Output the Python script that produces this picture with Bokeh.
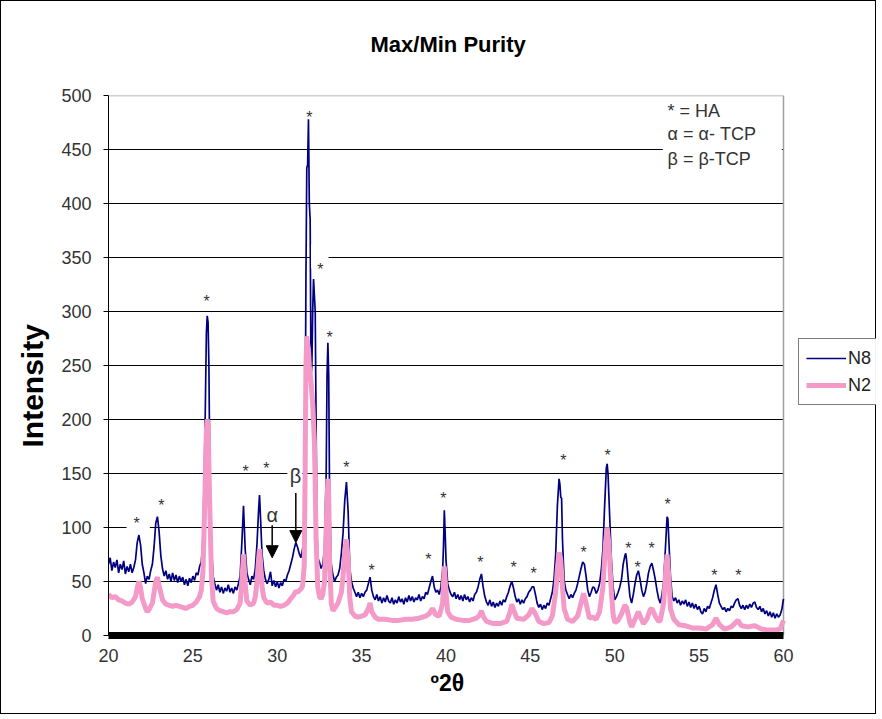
from bokeh.plotting import figure
from bokeh.models import (Legend, LegendItem, Label, LabelSet, Arrow, NormalHead, BoxAnnotation,
                          FixedTicker, Range1d, Title, ColumnDataSource)
from bokeh.core.properties import value
from bokeh.embed import file_html
from bokeh.resources import INLINE

FONT = "Liberation Sans"

# ---------------- data ----------------
n8_theta = [
    20.0, 20.1, 20.2, 20.3, 20.4, 20.5, 20.6, 20.7, 20.8, 20.9,
    21.0, 21.1, 21.2, 21.3, 21.4, 21.5, 21.6, 21.7, 21.8, 21.9,
    22.0, 22.1, 22.2, 22.3, 22.4, 22.5, 22.6, 22.7, 22.8, 22.9,
    23.0, 23.1, 23.2, 23.3, 23.4, 23.5, 23.6, 23.7, 23.8, 23.9,
    24.0, 24.1, 24.2, 24.3, 24.4, 24.5, 24.6, 24.7, 24.8, 24.9,
    25.0, 25.1, 25.2, 25.3, 25.4, 25.5, 25.6, 25.7, 25.8, 25.85, 25.9, 25.95,
    26.0, 26.1, 26.2, 26.3, 26.4, 26.5, 26.6, 26.7, 26.8, 26.9,
    27.0, 27.1, 27.2, 27.3, 27.4, 27.5, 27.6, 27.7, 27.8, 27.9,
    28.0, 28.1, 28.2, 28.3, 28.4, 28.5, 28.6, 28.7, 28.8, 28.9, 28.95,
    29.0, 29.1, 29.2, 29.3, 29.4, 29.5, 29.6, 29.7, 29.8, 29.9,
    30.0, 30.1, 30.2, 30.3, 30.4, 30.5, 30.6, 30.7, 30.8, 30.9,
    31.0, 31.1, 31.2, 31.3, 31.4, 31.5, 31.55, 31.6, 31.65, 31.7, 31.75, 31.8, 31.85, 31.9, 31.95,
    32.0, 32.05, 32.1, 32.15, 32.2, 32.25, 32.3, 32.35, 32.4, 32.5, 32.6, 32.7, 32.8, 32.9, 32.95,
    33.0, 33.05, 33.1, 33.2, 33.3, 33.4, 33.5, 33.6, 33.7, 33.8, 33.9,
    34.0, 34.1, 34.2, 34.3, 34.4, 34.5, 34.6, 34.7, 34.8, 34.9,
    35.0, 35.1, 35.2, 35.3, 35.4, 35.5, 35.6, 35.7, 35.8, 35.9,
    36.0, 36.1, 36.2, 36.3, 36.4, 36.5, 36.6, 36.7, 36.8, 36.9,
    37.0, 37.1, 37.2, 37.3, 37.4, 37.5, 37.6, 37.7, 37.8, 37.9,
    38.0, 38.1, 38.2, 38.3, 38.4, 38.5, 38.6, 38.7, 38.8, 38.9,
    39.0, 39.1, 39.2, 39.3, 39.4, 39.5, 39.6, 39.7, 39.8, 39.85, 39.9, 39.95,
    40.0, 40.1, 40.2, 40.3, 40.4, 40.5, 40.6, 40.7, 40.8, 40.9,
    41.0, 41.1, 41.2, 41.3, 41.4, 41.5, 41.6, 41.7, 41.8, 41.9,
    42.0, 42.1, 42.2, 42.3, 42.4, 42.5, 42.6, 42.7, 42.8, 42.9,
    43.0, 43.1, 43.2, 43.3, 43.4, 43.5, 43.6, 43.7, 43.8, 43.9,
    44.0, 44.1, 44.2, 44.3, 44.4, 44.5, 44.6, 44.7, 44.8, 44.9,
    45.0, 45.1, 45.2, 45.3, 45.4, 45.5, 45.6, 45.7, 45.8, 45.9,
    46.0, 46.1, 46.2, 46.3, 46.4, 46.5, 46.6, 46.7, 46.75, 46.8, 46.85, 46.9,
    47.0, 47.1, 47.2, 47.3, 47.4, 47.5, 47.6, 47.7, 47.8, 47.9,
    48.0, 48.1, 48.2, 48.3, 48.4, 48.5, 48.6, 48.7, 48.8, 48.9,
    49.0, 49.1, 49.2, 49.3, 49.4, 49.5, 49.55, 49.6, 49.7, 49.8, 49.9,
    50.0, 50.1, 50.2, 50.3, 50.4, 50.5, 50.6, 50.65, 50.7, 50.8, 50.9,
    51.0, 51.1, 51.2, 51.3, 51.4, 51.5, 51.6, 51.7, 51.8, 51.9,
    52.0, 52.1, 52.2, 52.3, 52.4, 52.5, 52.6, 52.7, 52.8, 52.9,
    53.0, 53.1, 53.15, 53.2, 53.3, 53.4, 53.5, 53.6, 53.7, 53.8, 53.9,
    54.0, 54.1, 54.2, 54.3, 54.4, 54.5, 54.6, 54.7, 54.8, 54.9,
    55.0, 55.1, 55.2, 55.3, 55.4, 55.5, 55.6, 55.7, 55.8, 55.9,
    56.0, 56.1, 56.2, 56.3, 56.4, 56.5, 56.6, 56.7, 56.8, 56.9,
    57.0, 57.1, 57.2, 57.3, 57.4, 57.5, 57.6, 57.7, 57.8, 57.9,
    58.0, 58.1, 58.2, 58.3, 58.4, 58.5, 58.6, 58.7, 58.8, 58.9,
    59.0, 59.1, 59.2, 59.3, 59.4, 59.5, 59.6, 59.7, 59.8, 59.9, 60.0,
]
n8_counts = [
    66, 72, 60, 68, 63, 70, 58, 66, 61, 69,
    57, 64, 59, 66, 58, 63, 70, 86, 93, 84,
    66, 58, 48, 55, 52, 60, 66, 82, 104, 110,
    96, 74, 62, 55, 60, 52, 57, 50, 58, 51,
    56, 49, 55, 50, 54, 47, 52, 46, 53, 49,
    55, 51, 58, 56, 64, 68, 90, 170, 280, 296, 290, 250,
    160, 82, 55, 48, 42, 47, 40, 45, 39, 44,
    41, 47, 40, 44, 39, 45, 42, 48, 55, 85,
    120, 80, 58, 52, 47, 55, 52, 62, 85, 118, 130,
    112, 75, 60, 52, 48, 52, 59, 46, 51, 45,
    50, 44, 49, 46, 52, 50, 56, 60, 66, 72,
    80, 86, 82, 76, 72, 80, 86, 100, 180, 330, 433, 436, 478, 400, 385,
    240, 250, 300, 330, 315, 300, 200, 100, 72, 68, 62, 66, 80, 150, 240,
    271, 240, 130, 66, 56, 50, 54, 56, 62, 76, 95,
    125, 142, 115, 62, 50, 44, 40, 36, 40, 35,
    39, 36, 40, 42, 48, 54, 42, 36, 33, 38,
    32, 36, 30, 35, 31, 37, 32, 30, 35, 29,
    33, 30, 36, 31, 34, 29, 35, 31, 37, 32,
    36, 31, 35, 33, 38, 32, 36, 34, 40, 38,
    44, 50, 55, 45, 40, 42, 38, 45, 60, 82, 116, 95,
    70, 48, 42, 38, 36, 40, 34, 38, 33, 37,
    32, 38, 33, 36, 31, 35, 32, 38, 40, 45,
    52, 57, 45, 36, 31, 28, 33, 27, 31, 26,
    30, 27, 32, 28, 33, 31, 36, 40, 46, 50,
    44, 36, 31, 34, 29, 33, 30, 34, 36, 40,
    42, 45, 45, 38, 30, 26, 29, 24, 28, 25,
    30, 28, 34, 40, 52, 75, 120, 145, 140, 128, 127, 90,
    51, 42, 38, 34, 38, 35, 39, 42, 48, 55,
    62, 68, 66, 55, 42, 36, 40, 45, 44, 39,
    42, 48, 60, 80, 120, 155, 159, 150, 110, 70, 45,
    33, 36, 40, 45, 52, 66, 74, 76, 70, 52, 36,
    30, 38, 48, 56, 60, 52, 42, 36, 40, 48,
    58, 64, 67, 60, 52, 42, 34, 30, 38, 50,
    80, 110, 108, 90, 55, 36, 32, 35, 30, 33, 28,
    32, 29, 33, 27, 31, 26, 30, 25, 29, 24,
    27, 22, 20, 25, 22, 27, 25, 30, 35, 42,
    47, 38, 30, 27, 24, 26, 22, 25, 23, 27,
    26, 30, 33, 34, 28, 25, 28, 24, 28, 25,
    29, 26, 30, 31, 26, 24, 27, 22, 25, 20,
    23, 18, 22, 17, 21, 16, 20, 17, 19, 24, 34,
]

n2_theta = [
    20.0, 20.2, 20.4, 20.6, 20.8, 21.0, 21.2, 21.4, 21.6, 21.7, 21.8, 21.9,
    22.0, 22.2, 22.3, 22.4, 22.6, 22.7, 22.8, 22.9,
    23.0, 23.2, 23.4, 23.6, 23.8, 24.0, 24.2, 24.4, 24.6, 24.8,
    25.0, 25.2, 25.4, 25.5, 25.6, 25.7, 25.8, 25.85, 25.9,
    26.0, 26.1, 26.2, 26.4, 26.6, 26.8,
    27.0, 27.2, 27.4, 27.6, 27.8, 27.9,
    28.0, 28.1, 28.2, 28.4, 28.6, 28.7, 28.8, 28.9, 28.95,
    29.0, 29.1, 29.2, 29.4, 29.6, 29.8,
    30.0, 30.2, 30.4, 30.6, 30.8,
    31.0, 31.1, 31.2, 31.4, 31.5, 31.6, 31.65, 31.7, 31.75, 31.8, 31.85, 31.9,
    32.0, 32.1, 32.2, 32.25, 32.3, 32.4, 32.5, 32.6, 32.7, 32.8, 32.9,
    33.0, 33.05, 33.1, 33.2, 33.3, 33.4, 33.6, 33.8, 33.9,
    34.0, 34.1, 34.2, 34.3, 34.4, 34.6, 34.8,
    35.0, 35.2, 35.4, 35.5, 35.6, 35.8,
    36.0, 36.4, 36.8, 37.2, 37.6, 38.0, 38.4, 38.8,
    39.0, 39.2, 39.4, 39.6, 39.8, 39.9,
    40.0, 40.1, 40.3, 40.6,
    41.0, 41.4, 41.8,
    42.0, 42.1, 42.2, 42.4, 42.8,
    43.2, 43.6, 43.8, 43.9,
    44.0, 44.2, 44.6, 44.9,
    45.1, 45.3, 45.5, 45.8,
    46.1, 46.3, 46.5, 46.6, 46.7, 46.8, 46.9,
    47.0, 47.2, 47.5, 47.8,
    48.0, 48.15, 48.3, 48.5, 48.7, 48.9,
    49.1, 49.3, 49.45, 49.55, 49.65, 49.8, 49.9,
    50.0, 50.2, 50.4, 50.6, 50.7, 50.9,
    51.0, 51.2, 51.4, 51.5, 51.7, 51.9,
    52.1, 52.2, 52.4, 52.6, 52.7, 52.9,
    53.0, 53.1, 53.2, 53.3, 53.5, 53.8,
    54.2, 54.6, 55.0, 55.4, 55.8,
    56.0, 56.2, 56.5, 56.9,
    57.1, 57.3, 57.5, 57.9,
    58.3, 58.7, 59.1, 59.5, 59.8, 60.0,
]
n2_counts = [
    38, 35, 36, 33, 32, 30, 29, 31, 36, 44, 50, 44,
    34, 25, 22, 24, 30, 40, 50, 54,
    46, 33, 29, 28, 27, 28, 27, 26, 25, 27,
    28, 31, 36, 42, 60, 120, 190, 200, 195,
    120, 55, 32, 25, 23, 22,
    21, 22, 22, 24, 30, 50,
    75, 48, 32, 28, 30, 36, 50, 72, 80,
    70, 45, 35, 30, 31, 28,
    28, 27, 28, 30, 34,
    38, 41, 40, 43, 46, 65, 150, 250, 277, 270, 265, 250,
    235, 215, 180, 140, 90, 45, 36, 34, 38, 50, 100,
    145, 130, 70, 30, 23, 25, 30, 40, 55,
    78, 89, 70, 35, 22, 18, 17,
    18, 19, 25, 30, 22, 17,
    15, 15, 14, 14, 15, 15, 16, 18,
    20, 25, 19, 18, 30, 64,
    40, 22, 17, 15,
    14, 14, 16,
    19, 23, 18, 13, 11,
    11, 13, 22, 29,
    24, 16, 15, 19,
    25, 20, 13, 11,
    12, 18, 40, 62, 77, 70, 45,
    25, 15, 13, 18,
    30, 39, 30, 16, 17, 15,
    22, 45, 85, 100, 85, 40, 20,
    12, 14, 20, 28, 26, 12,
    8, 15, 22, 18, 11, 15,
    24, 25, 18, 13, 14, 30,
    55, 75, 55, 25, 15, 10,
    9, 7, 7, 6, 10,
    16, 10, 6, 8,
    11, 14, 9, 8,
    9, 6, 5, 5, 6, 14,
]

# HA peak markers ("*"): position of each marker
ha_theta = [21.66, 23.14, 25.81, 28.12, 29.36, 31.91, 32.56, 33.1, 34.1, 35.59,
            38.96, 39.85, 42.04, 44.0, 45.19, 46.96, 48.15, 49.57, 50.81, 51.35,
            52.18, 53.13, 55.91, 57.33]
ha_level = [104, 120, 309, 152, 155, 480, 339, 276, 156, 60,
            70, 127, 68, 63, 57, 162, 77, 167, 81, 63,
            81, 121, 56, 56]

x_ticks = [20, 25, 30, 35, 40, 45, 50, 55, 60]
y_ticks = [0, 50, 100, 150, 200, 250, 300, 350, 400, 450, 500]
key_lines = ["* = HA", "\u03b1 = \u03b1- TCP", "\u03b2 = \u03b2-TCP"]

# ---------------- layout constants ----------------
FIG_W, FIG_H = 876, 714
LEFT, RIGHT, TOP, BOTTOM = 107, 1, 94, 80
PX_PER_DEG = 675 / (x_ticks[-1] - x_ticks[0])       # plot box is 675 px wide
frame_w = FIG_W - LEFT - RIGHT
x_end = x_ticks[0] + frame_w / PX_PER_DEG            # extra room on the right for the legend

p = figure(width=FIG_W, height=FIG_H,
           x_range=Range1d(x_ticks[0], x_end), y_range=Range1d(y_ticks[0], y_ticks[-1]),
           output_backend="svg", toolbar_location=None,
           min_border_left=LEFT, min_border_right=RIGHT,
           min_border_top=TOP, min_border_bottom=BOTTOM)
p.styles = {"border": "1px solid black"}
p.background_fill_color = "white"
p.border_fill_color = "white"
p.outline_line_color = None

# chart title: a small blank spacer next to the plot box, then the title above it
p.title = None
p.add_layout(Title(text=" ", standoff=6, text_font=FONT, text_font_size="10px"), "above")
p.add_layout(Title(text="Max/Min Purity", align="left", offset=262, standoff=40,
                   text_font=FONT, text_font_size="22px",
                   text_font_style="bold", text_color="black"), "above")

p.xaxis.ticker = FixedTicker(ticks=x_ticks)
p.yaxis.ticker = FixedTicker(ticks=y_ticks)
p.xaxis.bounds = (x_ticks[0], x_ticks[-1])
p.xgrid.visible = False
p.ygrid.visible = False

for ax in (p.xaxis, p.yaxis):
    ax.major_label_text_font = FONT
    ax.major_label_text_font_size = "18px"
    ax.major_label_text_color = "#333333"
    ax.minor_tick_line_color = None
    ax.axis_line_color = "black"

p.xaxis.axis_line_width = 7
p.xaxis.major_tick_line_color = None
p.xaxis.major_label_standoff = 7

p.yaxis.major_tick_out = 5
p.yaxis.major_tick_in = 0
p.yaxis.major_tick_line_color = "black"
p.yaxis.major_label_standoff = 12

# axis titles (placed as side titles so they line up with the 20..60 plot box)
p.add_layout(Title(text="Intensity", align="left", offset=188, standoff=18,
                   vertical_align="middle", text_font=FONT, text_font_size="30px",
                   text_font_style="bold", text_color="black"), "left")
p.add_layout(Title(text="\u00ba2\u03b8", align="left", offset=322, standoff=6,
                   text_font=FONT, text_font_size="23px", text_font_style="bold",
                   text_color="black"), "below")

# horizontal gridlines, limited to the plot box (20..60)
grid_levels = y_ticks[1:-1]
p.segment(x0=x_ticks[0], x1=x_ticks[-1], y0=grid_levels, y1=grid_levels,
          line_color="black", line_width=1)
# grey top / right border of the plot box
p.segment(x0=[x_ticks[0], x_ticks[-1]], y0=[y_ticks[-1], y_ticks[0]],
          x1=[x_ticks[-1], x_ticks[-1]], y1=[y_ticks[-1], y_ticks[-1]],
          line_color="#a0a0a0", line_width=1.5)

# series
r8 = p.line(n8_theta, n8_counts, line_color="#000080", line_width=1.7)
r2 = p.line(n2_theta, n2_counts, line_color="#f49ac8", line_width=5)

# white boxes behind the annotations (they interrupt the gridlines)
for l, r, b, t in [(52.85, 59.9, 425, 498), (21.07, 22.45, 94, 114),
                   (32.0, 33.04, 340, 362), (30.6, 31.48, 140, 158)]:
    p.add_layout(BoxAnnotation(left=l, right=r, bottom=b, top=t,
                               fill_color="white", fill_alpha=1.0, line_alpha=0))

# HA markers
ha_src = ColumnDataSource(dict(x=ha_theta, y=ha_level, t=["*"] * len(ha_theta)))
p.add_layout(LabelSet(x="x", y="y", text="t", source=ha_src, text_font=value(FONT),
                      text_font_size="16px", text_color="#333333",
                      text_align="center", text_baseline="middle"))

# alpha / beta labels with arrows
p.add_layout(Label(x=29.7, y=112, text="\u03b1", text_font=FONT, text_font_size="20px",
                   text_color="#333333", text_align="center", text_baseline="middle"))
p.add_layout(Label(x=31.08, y=148, text="\u03b2", text_font=FONT, text_font_size="20px",
                   text_color="#333333", text_align="center", text_baseline="middle"))
p.add_layout(Arrow(end=NormalHead(size=12, fill_color="black", line_color="black"),
                   x_start=29.7, y_start=102, x_end=29.7, y_end=72,
                   line_color="black", line_width=1.5))
p.add_layout(Arrow(end=NormalHead(size=12, fill_color="black", line_color="black"),
                   x_start=31.1, y_start=132, x_end=31.1, y_end=86,
                   line_color="black", line_width=1.5))

# key text
for txt, yv in zip(key_lines, [486, 464, 441]):
    p.add_layout(Label(x=53.13, y=yv, text=txt, text_font=FONT, text_font_size="18px",
                       text_color="#333333", text_align="left", text_baseline="middle"))

legend = Legend(items=[LegendItem(label="N8", renderers=[r8]),
                       LegendItem(label="N2", renderers=[r2])],
                location=(690, 230))
legend.label_text_font = FONT
legend.label_text_font_size = "18px"
legend.label_text_color = "#222222"
legend.border_line_color = "black"
legend.border_line_width = 1
legend.glyph_width = 40
legend.glyph_height = 24
legend.label_height = 24
legend.label_standoff = 2
legend.padding = 7
legend.spacing = 3
legend.margin = 0
legend.background_fill_color = "white"
p.add_layout(legend)

open("out.html", "w").write(file_html(p, INLINE))
